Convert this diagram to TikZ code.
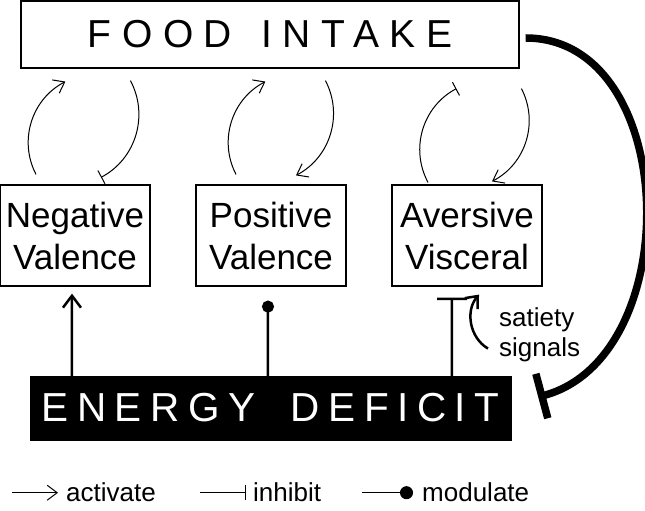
\documentclass[tikz,border=0pt]{standalone}
\usepackage{fontspec}
\setmainfont{Liberation Sans}
\newfontfamily\widefood[LetterSpace=27]{Liberation Sans}
\newfontfamily\widedeficit[LetterSpace=21]{Liberation Sans}
\usetikzlibrary{arrows.meta}
\tikzstyle{intake} = [draw, rectangle, line width=1.2pt, minimum width=498pt, minimum height=67pt, font=\widefood\fontsize{39}{44}\selectfont]
\tikzstyle{valbox} = [draw, rectangle, line width=1.2pt, minimum width=150pt, minimum height=101pt, inner sep=0pt, align=center, font=\fontsize{35}{42}\selectfont]
\tikzstyle{deficit} = [draw, fill=black, rectangle, text=white, minimum width=481pt, minimum height=64pt, font=\widedeficit\fontsize{40.5}{46}\selectfont]
\tikzstyle{legend} = [anchor=base west, inner sep=0pt, font=\fontsize{26}{30}\selectfont]
\tikzstyle{act} = [line width=1pt, -{Straight Barb[length=10pt,width=15pt]}]
\tikzstyle{inh} = [line width=1pt, -{Bar[width=15pt]}]
\tikzstyle{deep} = [line width=2.5pt]

\begin{document}
\begin{tikzpicture}[x=1pt, y=1pt, node distance=196pt]
    % keep the page the size of the original figure
    \useasboundingbox (0,0) rectangle (645,511);
    \node [intake] (food) at (270,476.5) {FOOD\hspace{8pt} INTAKE};
    \node [valbox] (neg) at (75,275.5) {Negative\\Valence};
    \node [valbox, right of=neg] (pos) {Positive\\Valence};
    \node [valbox, right of=pos] (avers) {Aversive\\Visceral};
    \node [deficit] (energy) at (270.5,103) {ENERGY\hspace{16pt} DEFICIT};

% loops between food intake and the three boxes
    \draw [act] ([xshift=-39pt,yshift=10pt]neg.north) to[bend left=45] ([xshift=45pt,yshift=-13pt]food.south west);
    \draw [inh] ([xshift=110pt,yshift=-12pt]food.south west) to[bend left=45] ([xshift=26pt,yshift=7pt]neg.north);
    \draw [act] ([xshift=-35pt,yshift=10pt]pos.north) to[bend left=45] ([xshift=245pt,yshift=-13pt]food.south west);
    \draw [act] ([xshift=305pt,yshift=-12pt]food.south west) to[bend left=45] ([xshift=25pt,yshift=9pt]pos.north);
    \draw [inh] ([xshift=-39pt,yshift=2pt]avers.north) to[bend left=45] ([xshift=436pt,yshift=-20pt]food.south west);
    \draw [act] ([xshift=501pt,yshift=-20pt]food.south west) to[bend left=45] ([xshift=25pt,yshift=3pt]avers.north);

% energy deficit acting upwards
    \draw [deep, -{Straight Barb[length=12pt,width=18pt]}] ([xshift=42pt]energy.north west) -- ([xshift=-3pt,yshift=-7pt]neg.south);
    \draw [deep, -{Circle[length=12pt]}] ([xshift=238pt]energy.north west) -- ([xshift=-3pt,yshift=-14pt]pos.south);
    \draw [deep, -{Bar[width=30pt]}] ([xshift=422pt]energy.north west) -- ([xshift=-15pt,yshift=-11pt]avers.south);
    \draw [deep, -{Straight Barb[length=10pt,width=17pt]}] ([xshift=21pt,yshift=-62pt]avers.south) to[bend left=50] ([xshift=12pt,yshift=-8pt]avers.south);
    \node [anchor=west, inner sep=0pt, align=left, font=\fontsize{26}{30}\selectfont] (satiety) at (499,176) {satiety\\signals};

    \draw [line width=7.5pt, -{Bar[width=46pt]}] ([xshift=6pt,yshift=-3.5pt]food.east) to[out=0,in=15,looseness=1.1] ([xshift=27pt,yshift=11pt]energy.east);

% legend
    \node [legend] (activate) at (66,9) {activate};
    \node [legend] (inhibit) at (253,9) {inhibit};
    \node [legend] (modulate) at (422,9) {modulate};
    \draw [act] ([xshift=-54pt]activate.west) -- ([xshift=-8pt]activate.west);
    \draw [inh] ([xshift=-53pt]inhibit.west) -- ([xshift=-7pt]inhibit.west);
    \draw [line width=1pt, -{Circle[length=13pt]}] ([xshift=-60pt]modulate.west) -- ([xshift=-9pt]modulate.west);
\end{tikzpicture}
\end{document}
